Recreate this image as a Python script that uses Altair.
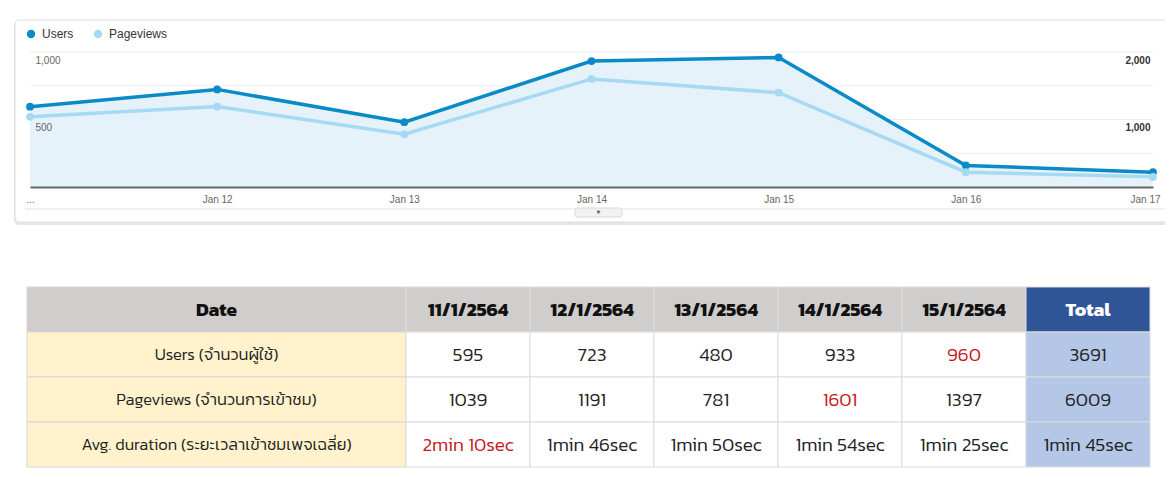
import altair as alt
import pandas as pd

# ---------------- data ----------------
dates = ["Jan 11", "Jan 12", "Jan 13", "Jan 14", "Jan 15", "Jan 16", "Jan 17"]
users = [595, 723, 480, 933, 960, 160, 110]
pageviews = [1039, 1191, 781, 1601, 1397, 220, 150]
users_grid = [250, 500, 750, 1000]
users_ticks = [500, 1000]
pageviews_ticks = [1000, 2000]

table_cols = ["11/1/2564", "12/1/2564", "13/1/2564", "14/1/2564", "15/1/2564"]
total_col = "Total"
row_labels = ["Date", "Users (จำนวนผู้ใช้)", "Pageviews (จำนวนการเข้าชม)",
              "Avg. duration (ระยะเวลาเข้าชมเพจเฉลี่ย)"]
table_users = [595, 723, 480, 933, 960]
table_users_total = 3691
table_pageviews = [1039, 1191, 781, 1601, 1397]
table_pageviews_total = 6009
table_avg_sec = [130, 106, 110, 114, 85]
table_avg_total_sec = 105

FONT = "Kanit, 'Noto Sans Thai', 'Noto Sans', 'DejaVu Sans', sans-serif"
GA_FONT = "Arial, 'Liberation Sans', sans-serif"

# ---------------- line chart ----------------
users_df = pd.DataFrame({"date": dates, "v": users, "series": "Users"})
pv_df = pd.DataFrame({"date": dates, "v": pageviews, "series": "Pageviews"})
grid_df = pd.DataFrame({"v": users_grid, "d0": dates[0], "d1": dates[-1]})

x_scale = alt.Scale(type="point", domain=dates, range=[22, 1145], padding=0)
x_axis = alt.Axis(title=None, orient="bottom", offset=-282, ticks=False, tickSize=0,
                  domainColor="#666", domainWidth=2, labelColor="#666",
                  labelFont=GA_FONT, labelFontSize=10, labelPadding=7, labelAngle=0,
                  labelOverlap=False,
                  labelOffset={"condition": {"test": f"datum.value == '{dates[-1]}'",
                                             "value": -8}, "value": 0},
                  labelExpr=f"datum.value == '{dates[0]}' ? '...' : datum.label",
                  zindex=2, grid=False)
users_scale = alt.Scale(domain=[0, 1000], range=[179, 44], nice=False, zero=True)
pv_scale = alt.Scale(domain=[0, 2000], range=[179, 44], nice=False, zero=True)
users_axis = alt.Axis(title=None, orient="left", offset=-22, values=users_ticks,
                      ticks=False, tickSize=0, domain=False, grid=False,
                      labelAlign="left", labelPadding=-5, labelBaseline="top",
                      labelOffset=3, labelColor="#666", labelFont=GA_FONT,
                      labelFontSize=10, format=",.0f", zindex=2)
pv_axis = alt.Axis(title=None, orient="right", offset=-15, values=pageviews_ticks,
                   ticks=False, tickSize=0, domain=False, grid=False,
                   labelAlign="right", labelPadding=0, labelBaseline="top",
                   labelOffset=3, labelColor="#333", labelFontWeight="bold",
                   labelFont=GA_FONT, labelFontSize=10, format=",.0f", zindex=2)

color_scale = alt.Scale(domain=["Users", "Pageviews"], range=["#0a8ac6", "#a6d9f2"])
legend = alt.Legend(title=None, orient="none", legendX=17, legendY=20,
                    direction="horizontal", symbolType="circle", symbolSize=70,
                    labelFont=GA_FONT, labelFontSize=12, labelColor="#333",
                    labelOffset=5, columnPadding=18, padding=0)

y_users = alt.Y("v:Q", scale=users_scale, axis=users_axis)
y_pv = alt.Y("v:Q", scale=pv_scale, axis=pv_axis)
x_date = alt.X("date:N", scale=x_scale, axis=x_axis)

grid = alt.Chart(grid_df).mark_rule(color="#eeeeee", strokeWidth=1).encode(
    x=alt.X("d0:N", scale=x_scale, axis=x_axis),
    x2="d1:N",
    y=y_users,
)
area = alt.Chart(users_df).mark_area(color="#e4f1f9", opacity=0.95).encode(
    x=x_date, y=y_users,
)
users_line = alt.Chart(users_df).mark_line(color="#0a8ac6", strokeWidth=3.5).encode(
    x=x_date, y=y_users,
)
users_pts = alt.Chart(users_df).mark_circle(size=60, opacity=1).encode(
    x=x_date, y=y_users,
    color=alt.Color("series:N", scale=color_scale, legend=legend),
)
pv_line = alt.Chart(pv_df).mark_line(color="#a6d9f2", strokeWidth=3.5).encode(
    x=x_date, y=y_pv,
)
pv_pts = alt.Chart(pv_df).mark_circle(size=60, opacity=1).encode(
    x=x_date, y=y_pv,
    color=alt.Color("series:N", scale=color_scale, legend=legend),
)

users_group = alt.layer(grid, area, users_line)
pv_group = alt.layer(pv_line, pv_pts)
users_pts_group = alt.layer(users_pts)
top_group = alt.layer(
    alt.layer(users_group, users_pts_group), pv_group
).resolve_scale(y="independent")

# ---------------- decorations (card) ----------------
one = pd.DataFrame({"k": [0]})
card_shadow = alt.Chart(one).mark_rect(fill="#e6e6e6", cornerRadius=5).encode(
    x=alt.value(6), x2=alt.value(1175), y=alt.value(13), y2=alt.value(217))
card = alt.Chart(one).mark_rect(fill="white", stroke="#dedede", strokeWidth=1,
                                cornerRadius=4).encode(
    x=alt.value(7), x2=alt.value(1175), y=alt.value(12), y2=alt.value(214))
sep = alt.Chart(one).mark_rule(color="#e2e2e2", strokeWidth=1).encode(
    x=alt.value(17), x2=alt.value(1165), y=alt.value(201))
tab = alt.Chart(one).mark_rect(fill="#f2f2f2", stroke="#d8d8d8", cornerRadius=2).encode(
    x=alt.value(567), x2=alt.value(614), y=alt.value(200), y2=alt.value(209))
tab_arrow = alt.Chart(one).mark_point(shape="triangle-down", filled=True, size=18,
                                      color="#666", opacity=1).encode(
    x=alt.value(590.5), y=alt.value(204.5))
deco = alt.layer(card_shadow, card, sep, tab, tab_arrow)

# ---------------- table ----------------
def fmt_dur(s):
    return f"{s // 60}min {s % 60}sec"

row_keys = ["h", "u", "p", "a"]
cells = []
for c in table_cols + [total_col]:
    cells.append({"row": "h", "col": c, "text": c, "hl": False})
for key, vals, tot, fmt in [("u", table_users, table_users_total, str),
                            ("p", table_pageviews, table_pageviews_total, str),
                            ("a", table_avg_sec, table_avg_total_sec, fmt_dur)]:
    m = max(vals)
    for c, v in zip(table_cols, vals):
        cells.append({"row": key, "col": c, "text": fmt(v), "hl": v == m})
    cells.append({"row": key, "col": total_col, "text": fmt(tot), "hl": False})
cells_df = pd.DataFrame(cells)
label_df = pd.DataFrame({"row": row_keys, "col": "Date", "text": row_labels})

y_tab = alt.Scale(domain=row_keys, range=[279, 459], paddingInner=0, paddingOuter=0)
x_lab = alt.Scale(domain=["Date"], range=[19, 398], paddingInner=0, paddingOuter=0)
x_val = alt.Scale(domain=table_cols + [total_col], range=[398, 1142],
                  paddingInner=0, paddingOuter=0)

lab_rect = alt.Chart(label_df).transform_calculate(
    bg="datum.row == 'h' ? '#d0cecd' : '#fff2cc'"
).mark_rect(stroke="#d6d6d6", strokeWidth=1).encode(
    x=alt.X("col:N", scale=x_lab, axis=None),
    y=alt.Y("row:N", scale=y_tab, axis=None),
    fill=alt.Fill("bg:N", scale=None),
)
lab_head = alt.Chart(label_df).transform_filter("datum.row == 'h'").mark_text(
    font=FONT, fontSize=19, fontWeight="bold", color="#111").encode(
    x=alt.X("col:N", scale=x_lab, axis=None, bandPosition=0.5),
    y=alt.Y("row:N", scale=y_tab, axis=None, bandPosition=0.5),
    text="text:N",
)
lab_body = alt.Chart(label_df).transform_filter("datum.row != 'h'").mark_text(
    font=FONT, fontSize=16.5, fontWeight=300, color="#222").encode(
    x=alt.X("col:N", scale=x_lab, axis=None, bandPosition=0.5),
    y=alt.Y("row:N", scale=y_tab, axis=None, bandPosition=0.5),
    text="text:N",
)
val_rect = alt.Chart(cells_df).transform_calculate(
    bg=("datum.row == 'h' ? (datum.col == 'Total' ? '#2f5597' : '#d0cecd') : "
        "(datum.col == 'Total' ? '#b4c7e7' : '#ffffff')")
).mark_rect(stroke="#dcdcdc", strokeWidth=1).encode(
    x=alt.X("col:N", scale=x_val, axis=None),
    y=alt.Y("row:N", scale=y_tab, axis=None),
    fill=alt.Fill("bg:N", scale=None),
)
val_head = alt.Chart(cells_df).transform_filter("datum.row == 'h'").transform_calculate(
    fg="datum.col == 'Total' ? '#ffffff' : '#111111'"
).mark_text(font=FONT, fontSize=19, fontWeight="bold").encode(
    x=alt.X("col:N", scale=x_val, axis=None, bandPosition=0.5),
    y=alt.Y("row:N", scale=y_tab, axis=None, bandPosition=0.5),
    text="text:N",
    color=alt.Color("fg:N", scale=None),
)
val_body = alt.Chart(cells_df).transform_filter("datum.row != 'h'").transform_calculate(
    fg="datum.hl ? '#c8161d' : '#222222'"
).mark_text(font=FONT, fontSize=19, fontWeight=300).encode(
    x=alt.X("col:N", scale=x_val, axis=None, bandPosition=0.5),
    y=alt.Y("row:N", scale=y_tab, axis=None, bandPosition=0.5),
    text="text:N",
    color=alt.Color("fg:N", scale=None),
)
lab_group = alt.layer(lab_rect, lab_head, lab_body)
val_group = alt.layer(val_rect, val_head, val_body)
table_group = alt.layer(lab_group, val_group).resolve_scale(x="independent")

chart = alt.layer(deco, top_group, table_group).resolve_scale(
    x="independent", y="independent", color="independent"
).properties(
    width=1157, height=461, padding=0, autosize="none", background="white"
).configure_view(stroke=None)

chart.save("out.html", embed_options={"renderer": "svg", "actions": False})
